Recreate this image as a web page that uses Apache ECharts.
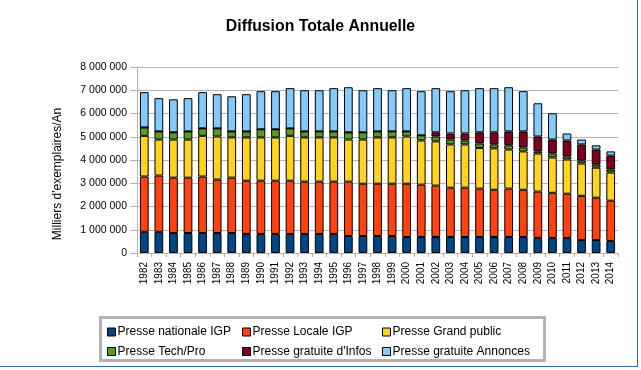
<!DOCTYPE html>
<html><head><meta charset="utf-8">
<script src="https://cdn.jsdelivr.net/npm/echarts@6/dist/echarts.min.js"></script>
<style>html,body{margin:0;padding:0;background:#fff}#c{width:641px;height:370px}</style>
</head><body><div id="c"></div>
<script>
const years = ['1982','1983','1984','1985','1986','1987','1988','1989','1990','1991','1992','1993','1994','1995','1996','1997','1998','1999','2000','2001','2002','2003','2004','2005','2006','2007','2008','2009','2010','2011','2012','2013','2014'];
const nationale = [910,910,860,860,860,860,860,820,820,820,820,820,820,820,730,730,730,730,690,690,690,690,690,690,690,690,690,650,650,650,560,560,520].map(v=>v*1000);
const locale = [2380,2420,2380,2380,2430,2300,2380,2290,2290,2290,2290,2250,2250,2250,2340,2250,2250,2250,2290,2250,2210,2120,2120,2080,2030,2080,2030,1990,1940,1900,1900,1820,1730].map(v=>v*1000);
const grandPublic = [1750,1550,1640,1640,1750,1850,1730,1860,1860,1860,1930,1900,1900,1900,1810,1900,1990,1990,2030,1900,1900,1860,1860,1750,1780,1680,1650,1640,1520,1470,1390,1290,1210].map(v=>v*1000);
const techPro = [360,350,310,350,320,350,260,260,350,350,320,260,260,260,310,310,260,260,220,220,210,210,170,190,170,180,170,90,170,130,130,130,130].map(v=>v*1000);
const gratuiteInfos = [0,0,0,0,0,0,0,0,0,0,0,0,0,0,0,0,0,0,0,0,180,260,300,480,520,600,690,640,600,690,690,650,600].map(v=>v*1000);
const gratuiteAnnonces = [1520,1430,1420,1430,1560,1470,1510,1600,1640,1640,1730,1770,1770,1860,1940,1810,1860,1770,1860,1900,1900,1820,1860,1900,1900,1900,1730,1430,1130,300,210,180,180].map(v=>v*1000);
const seriesNames = ['Presse nationale IGP','Presse Locale IGP','Presse Grand public','Presse Tech/Pro',"Presse gratuite d'Infos",'Presse gratuite Annonces'];
const colors = ['#004586','#ff420e','#ffd320','#579d1c','#7e0021','#83caff'];
const dataSets = [nationale, locale, grandPublic, techPro, gratuiteInfos, gratuiteAnnonces];
const yAxisTitle = "Milliers d'exemplaires/An";
const chartTitle = 'Diffusion Totale Annuelle';

function fmt(v){ return String(v).replace(/\B(?=(\d{3})+(?!\d))/g,' '); }
const FONT = 'Liberation Sans';
const legendCommon = {orient:'vertical', itemWidth:8, itemHeight:8, itemGap:7.5, icon:'rect',
  itemStyle:{borderColor:'#000',borderWidth:1},
  textStyle:{fontFamily:FONT,fontSize:12,color:'#000',padding:[0,0,0,-3]}, selectedMode:false};
const chart = echarts.init(document.getElementById('c'));
chart.setOption({
  animation:false,
  color: colors,
  title:{text:chartTitle, left:'center', top:14,
    textStyle:{fontFamily:FONT,fontSize:15.8,fontWeight:'bold',color:'#000'}},
  grid:{left:137, right:23, top:67, bottom:117},
  legend:[
    Object.assign({left:102, top:321, data:[seriesNames[0],seriesNames[3]]}, legendCommon),
    Object.assign({left:237, top:321, data:[seriesNames[1],seriesNames[4]]}, legendCommon),
    Object.assign({left:377, top:321, data:[seriesNames[2],seriesNames[5]]}, legendCommon)
  ],
  xAxis:{type:'category', data:years,
    axisLine:{lineStyle:{color:'#b3b3b3'}},
    axisTick:{show:true, length:4, lineStyle:{color:'#b3b3b3'}},
    axisLabel:{rotate:90, fontFamily:FONT, fontSize:10, color:'#000', margin:9}},
  yAxis:{type:'value', min:0, max:8000000, interval:1000000,
    axisLine:{show:true,lineStyle:{color:'#b3b3b3'}},
    axisTick:{show:true,length:7,lineStyle:{color:'#b3b3b3'}},
    splitLine:{lineStyle:{color:'#b3b3b3'}},
    axisLabel:{fontFamily:FONT,fontSize:10.5,color:'#000',margin:10,formatter:fmt}},
  series: seriesNames.map((n,i)=>({name:n, type:'bar', stack:'t', data:dataSets[i], barWidth:'60%',
    itemStyle:{color:colors[i], borderColor:'#000', borderWidth:1}})),
  graphic:[
    {type:'text', x:57.5, y:174, rotation:Math.PI/2,
      style:{text:yAxisTitle, fontFamily:FONT, fontSize:12, fill:'#000', align:'center', verticalAlign:'middle'}},
    {type:'rect', shape:{x:100.5,y:317.5,width:444,height:43}, style:{fill:'none',stroke:'#b3b3b3',lineWidth:3}},
    {type:'line', shape:{x1:637.5,y1:0,x2:637.5,y2:366}, style:{stroke:'#3465a4',lineWidth:1}},
    {type:'line', shape:{x1:0,y1:366.5,x2:638,y2:366.5}, style:{stroke:'#3465a4',lineWidth:1}}
  ]
});
</script></body></html>
